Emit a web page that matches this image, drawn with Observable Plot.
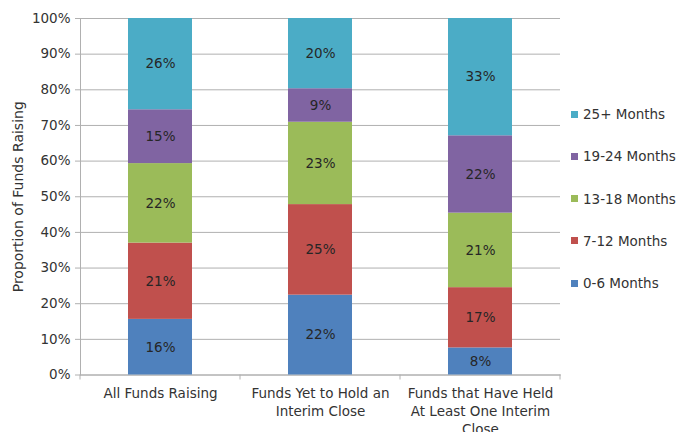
<!DOCTYPE html>
<html><head><meta charset="utf-8">
<script src="https://cdn.jsdelivr.net/npm/d3@7"></script>
<script src="https://cdn.jsdelivr.net/npm/@observablehq/plot@0.6"></script>
<style>
html,body{margin:0;padding:0;background:#fff;overflow:hidden;}
#wrap{position:relative;width:677px;height:432px;overflow:hidden;font-family:"DejaVu Sans",sans-serif;}
#legend{position:absolute;left:571px;top:0;white-space:nowrap;}
.li{position:absolute;left:0;height:16px;font-size:13.5px;color:#333;line-height:16px;}
.sw{display:inline-block;width:7px;height:7px;margin-right:5px;vertical-align:middle;position:relative;top:-1px;}
</style></head><body><div id="wrap"><div id="legend"></div></div>
<script>
const categories = ["All Funds Raising", "Funds Yet to Hold an Interim Close", "Funds that Have Held At Least One Interim Close"];
const categoryLines = ["All Funds Raising", "Funds Yet to Hold an\nInterim Close", "Funds that Have Held\nAt Least One Interim\nClose"];
const seriesNames = ["0-6 Months", "7-12 Months", "13-18 Months", "19-24 Months", "25+ Months"];
const seriesColors = ["#4F81BD", "#C0504D", "#9BBB59", "#8064A2", "#4BACC6"];
const months0to6 = [15.6, 22.4, 7.6];
const months7to12 = [21.4, 25.4, 16.9];
const months13to18 = [22.3, 23.1, 20.9];
const months19to24 = [15.1, 9.4, 21.7];
const months25plus = [25.6, 19.7, 32.9];
const yTicks = [0, 10, 20, 30, 40, 50, 60, 70, 80, 90, 100];
const yTitle = "Proportion of Funds Raising";

const seriesValues = [months0to6, months7to12, months13to18, months19to24, months25plus];
const data = [];
seriesNames.forEach((s, si) => categories.forEach((c, ci) => data.push({cat: c, series: s, value: seriesValues[si][ci]})));

const font = '"DejaVu Sans", sans-serif';
const grid = "#b0b0b0";
const fs = 13.5;

const chart = Plot.plot({
  width: 677, height: 432,
  marginLeft: 80, marginRight: 117, marginTop: 18, marginBottom: 57.5,
  style: {fontFamily: font, fontSize: fs + "px", color: "#333", background: "#fff"},
  x: {domain: categories, paddingInner: 0.6, paddingOuter: 0.3, axis: null},
  y: {domain: [0, 100]},
  color: {domain: seriesNames, range: seriesColors},
  marks: [
    Plot.gridY(yTicks, {stroke: grid, strokeOpacity: 1}),
    Plot.frame({anchor: "left", stroke: grid}),
    Plot.frame({anchor: "bottom", stroke: grid}),
    Plot.barY(data, {x: "cat", y: "value", z: "series", fill: "series", order: seriesNames}),
    Plot.text(data, Plot.stackY({x: "cat", y: "value", z: "series", order: seriesNames, text: d => Math.round(d.value) + "%", fill: "#262626", fontSize: fs})),
    Plot.axisY({ticks: yTicks, tickFormat: d => d + "%", tickSize: 5, tickPadding: 5, stroke: grid, fill: "#333", fontSize: fs, label: null}),
    Plot.text([yTitle], {text: d => d, frameAnchor: "left", textAnchor: "middle", lineAnchor: "middle", rotate: -90, dx: -62, fill: "#333", fontSize: 14}),
    Plot.text(categories, {x: d => d, text: (d, i) => categoryLines[i], frameAnchor: "bottom", lineAnchor: "top", dy: 10, lineHeight: 1.33, fill: "#333", fontSize: fs})
  ]
});
document.getElementById("wrap").prepend(chart);

// boundary ticks on the category axis
const sx = chart.scale("x");
const half = (sx.step - sx.bandwidth) / 2;
const bounds = categories.map(c => sx.apply(c) - half);
bounds.push(bounds[bounds.length - 1] + sx.step);
const y0 = chart.scale("y").apply(0);
d3.select(chart).append("g").selectAll("line").data(bounds).join("line")
  .attr("x1", d => d).attr("x2", d => d).attr("y1", y0).attr("y2", y0 + 5)
  .attr("stroke", grid);

// legend (top to bottom: reverse of stacking order)
const legend = d3.select("#legend");
const order = seriesNames.map((s, i) => i).reverse();
order.forEach((si, k) => {
  const item = legend.append("div").attr("class", "li").style("top", (106 + k * 42.3) + "px");
  item.append("span").attr("class", "sw").style("background", seriesColors[si]);
  item.append("span").text(seriesNames[si]);
});
</script>
</body></html>
